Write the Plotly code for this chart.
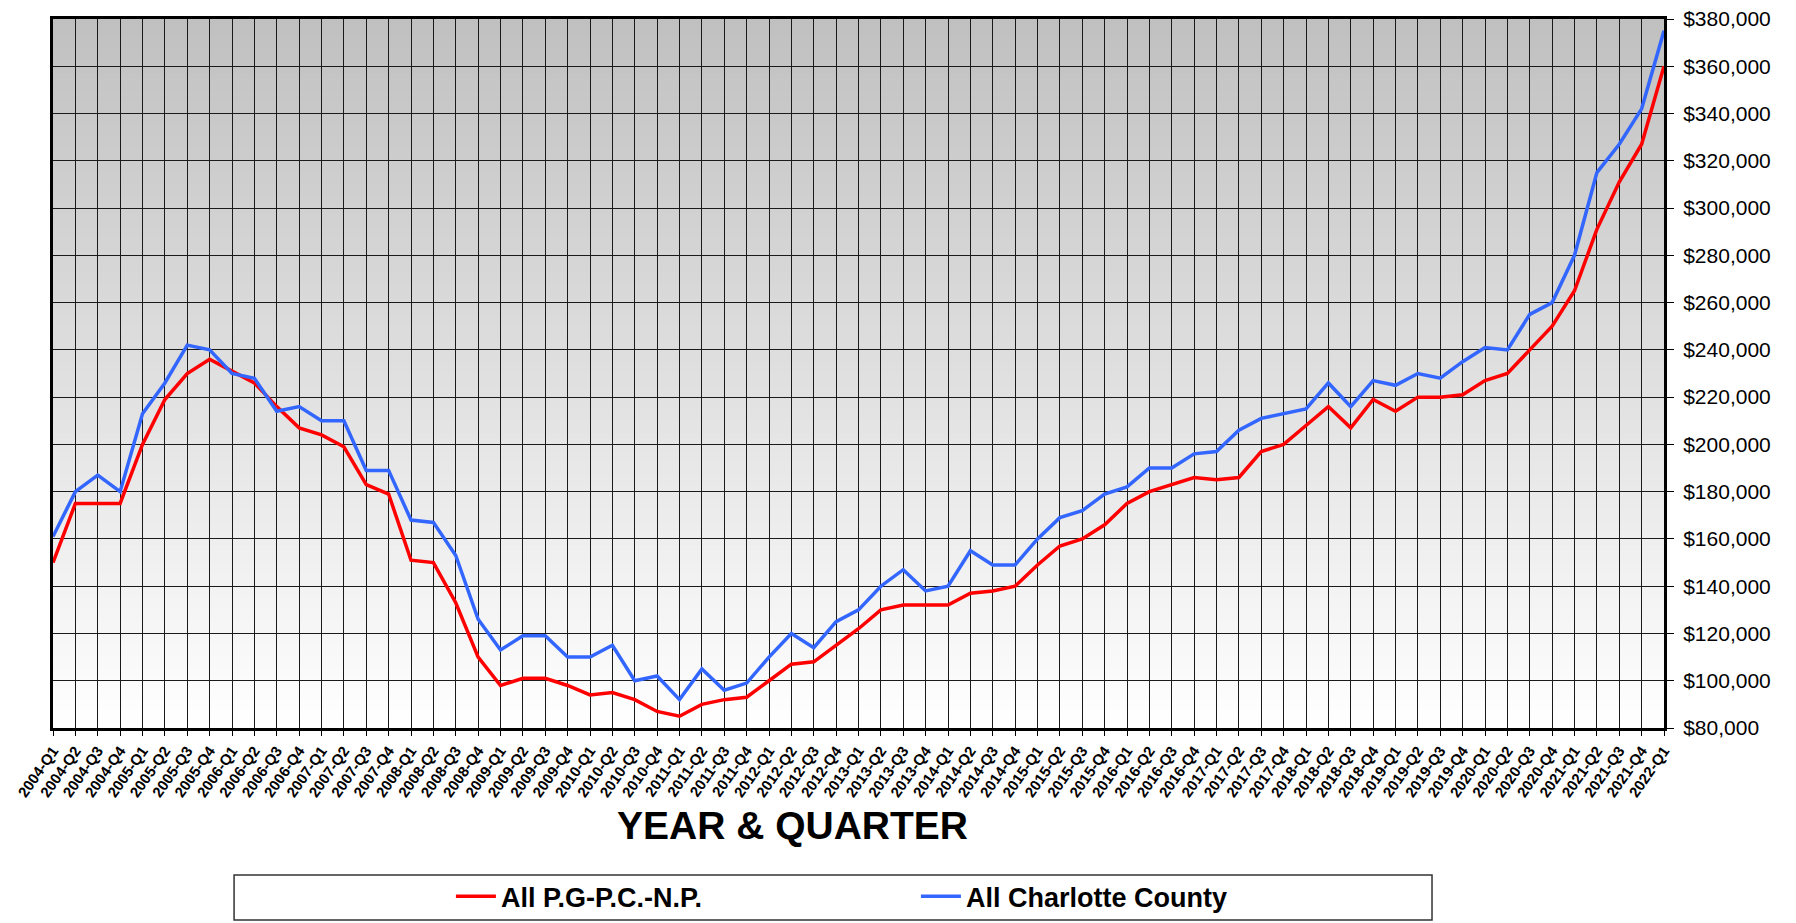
import plotly.graph_objects as go

quarters = [f"{y}-Q{q}" for y in range(2004, 2022) for q in range(1, 5)] + ["2022-Q1"]

pgpcnp = [150000, 175000, 175000, 175000, 200000, 219000, 230000, 236000,
          231000, 226000, 216000, 207000, 204000, 199000, 183000, 179000,
          151000, 150000, 133000, 110000, 98000, 101000, 101000, 98000,
          94000, 95000, 92000, 87000, 85000, 90000, 92000, 93000,
          100000, 107000, 108000, 115000, 122000, 130000, 132000, 132000,
          132000, 137000, 138000, 140000, 149000, 157000, 160000, 166000,
          175000, 180000, 183000, 186000, 185000, 186000, 197000, 200000,
          208000, 216000, 207000, 219000, 214000, 220000, 220000, 221000,
          227000, 230000, 240000, 250000, 265000, 291000, 311000, 327000,
          360000]

charlotte = [161000, 180000, 187000, 180000, 213000, 226000, 242000, 240000,
             230000, 228000, 214000, 216000, 210000, 210000, 189000, 189000,
             168000, 167000, 153000, 126000, 113000, 119000, 119000, 110000,
             110000, 115000, 100000, 102000, 92000, 105000, 96000, 99000,
             110000, 120000, 114000, 125000, 130000, 140000, 147000, 138000,
             140000, 155000, 149000, 149000, 160000, 169000, 172000, 179000,
             182000, 190000, 190000, 196000, 197000, 206000, 211000, 213000,
             215000, 226000, 216000, 227000, 225000, 230000, 228000, 235000,
             241000, 240000, 255000, 260000, 280000, 315000, 327000, 342000,
             375000]

series_names = ["All P.G-P.C.-N.P.", "All Charlotte County"]
series_colors = ["#FF0000", "#3366FF"]

FONT = "Liberation Sans, Arial, sans-serif"
xidx = list(range(len(quarters)))

fig = go.Figure()
for name, vals, col in zip(series_names, [pgpcnp, charlotte], series_colors):
    fig.add_trace(go.Scatter(x=xidx, y=vals, mode="lines", name=name,
                             line=dict(color=col, width=3.5)))

# gradient background bands
shapes = []
N = 120
for i in range(N):
    v = int(round(255 - (i + 0.5) / N * 63))
    shapes.append(dict(type="rect", xref="paper", yref="paper", x0=0, x1=1,
                       y0=i / N, y1=(i + 1) / N + 0.002, layer="below",
                       fillcolor=f"rgb({v},{v},{v})", line=dict(width=0)))
# legend box
shapes.append(dict(type="rect", xref="paper", yref="paper",
                   x0=0.1124, x1=0.856, y0=-0.2708, y1=-0.2074,
                   line=dict(color="#333333", width=1.5), fillcolor="rgba(0,0,0,0)"))

fig.update_layout(
    width=1796, height=923,
    margin=dict(l=45, r=140, t=11, b=203, autoexpand=False),
    paper_bgcolor="white", plot_bgcolor="white",
    font=dict(family=FONT, color="black"),
    shapes=shapes,
    showlegend=True,
    legend=dict(orientation="h", x=0.247, xanchor="left", y=-0.238, yanchor="middle",
                bgcolor="rgba(0,0,0,0)", font=dict(size=27, weight="bold", family=FONT),
                entrywidth=410, entrywidthmode="pixels", itemwidth=40),
    annotations=[dict(text="YEAR & QUARTER", xref="paper", yref="paper",
                      x=0.4593, y=-0.138, xanchor="center", yanchor="middle",
                      showarrow=False, font=dict(size=39, weight="bold", family=FONT))],
)

fig.update_xaxes(range=[0, 72], tickmode="array", tickvals=xidx, ticktext=quarters,
                 tickangle=-55, tickfont=dict(size=15, weight="bold", family=FONT),
                 showgrid=True, gridcolor="#1a1a1a", gridwidth=1, automargin=False,
                 showline=True, linecolor="black", linewidth=3, mirror=True,
                 ticks="outside", ticklen=5, tickcolor="black", zeroline=False,
                 ticklabeloverflow="allow")
fig.update_yaxes(range=[80000, 380000], side="right", dtick=20000, tick0=80000,
                 tickprefix="$", tickformat=",d", tickfont=dict(size=21, family=FONT),
                 showgrid=True, gridcolor="#1a1a1a", gridwidth=1, automargin=False,
                 showline=True, linecolor="black", linewidth=3, mirror=True,
                 ticks="outside", ticklen=7, tickcolor="black", zeroline=False,
                 ticklabelstandoff=5, ticklabeloverflow="allow")

fig.write_html("out.html")
